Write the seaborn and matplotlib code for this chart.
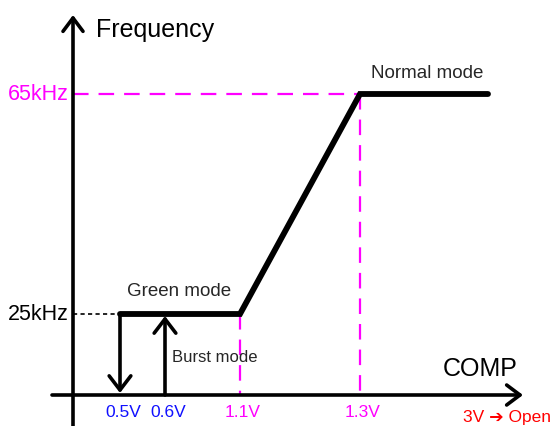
import matplotlib
matplotlib.use("Agg")
import matplotlib.pyplot as plt
import seaborn as sns
import pandas as pd

sns.set_theme(style="white")
plt.rcParams['font.family'] = ['Liberation Sans', 'DejaVu Sans']

# schematic (not-to-scale) positions in drawing units
volt_labels = ["0.5V", "0.6V", "1.1V", "1.3V"]
volt_pos = [120, 165, 240, 360]
volt_colors = ["#1010ff", "#1010ff", "#ff00ff", "#ff00ff"]
freq_labels = ["25kHz", "65kHz"]
freq_pos = [315, 95]
freq_colors = ["black", "#ff00ff"]
curve_x = [120, 240, 360, 488]
curve_y = [315, 315, 95, 95]

MAG = "#ff00ff"
fig = plt.figure(figsize=(5.55, 4.27), dpi=100)
ax = fig.add_axes([0, 0, 1, 1])

x0, yb = 73, 396  # axes origin

# magenta guide lines
ax.plot([x0, volt_pos[3]], [freq_pos[1]] * 2, color=MAG, lw=1.6, dashes=(7, 4.5))
ax.plot([volt_pos[3]] * 2, [freq_pos[1], yb], color=MAG, lw=1.6, dashes=(7, 4.5))
ax.plot([volt_pos[2]] * 2, [freq_pos[0], yb], color=MAG, lw=1.6, dashes=(7, 4.5))
# dotted line at 25kHz
ax.plot([x0, volt_pos[0]], [freq_pos[0]] * 2, color="black", lw=1.2, dashes=(2.5, 2))

# main curve
df = pd.DataFrame({"x": curve_x, "y": curve_y})
sns.lineplot(data=df, x="x", y="y", ax=ax, color="black", lw=4.2, sort=False,
             solid_capstyle="round", solid_joinstyle="miter")
ax.set_xlim(0, 555)
ax.set_ylim(427, 0)
ax.axis("off")

# axes with arrows
arrow_kw = dict(arrowstyle="->,head_length=0.8,head_width=0.6", lw=2.6, color="black",
                shrinkA=0, shrinkB=0)
ax.annotate("", xy=(x0, 16), xytext=(x0, 427), arrowprops=arrow_kw)
ax.annotate("", xy=(523, yb), xytext=(52, yb), arrowprops=arrow_kw)

# burst arrows
barrow = dict(arrowstyle="->,head_length=0.85,head_width=0.65", lw=2.6, color="black",
              shrinkA=0, shrinkB=0)
ax.annotate("", xy=(volt_pos[0], yb - 2), xytext=(volt_pos[0], freq_pos[0]), arrowprops=barrow)
ax.annotate("", xy=(volt_pos[1], freq_pos[0] + 2), xytext=(volt_pos[1], yb), arrowprops=barrow)

# texts
ax.text(96, 30, "Frequency", fontsize=18, ha="left", va="center", color="black")
ax.text(518, 369, "COMP", fontsize=18, ha="right", va="center", color="black")
ax.text(179, 292, "Green mode", fontsize=13.5, ha="center", va="center")
ax.text(427, 74, "Normal mode", fontsize=13.5, ha="center", va="center")
ax.text(215, 358, "Burst mode", fontsize=12, ha="center", va="center")
for lab, p, c in zip(freq_labels, freq_pos, freq_colors):
    ax.text(69, p, lab, fontsize=15.5, ha="right", va="center", color=c)
for lab, p, c in zip(volt_labels, volt_pos, volt_colors):
    ax.text(p + 3, 413, lab, fontsize=12.5, ha="center", va="center", color=c)
ax.text(463, 418, "3V \u2794 Open", fontsize=12.5, ha="left", va="center", color="#ff0000")

fig.savefig("out.png", dpi=100)
